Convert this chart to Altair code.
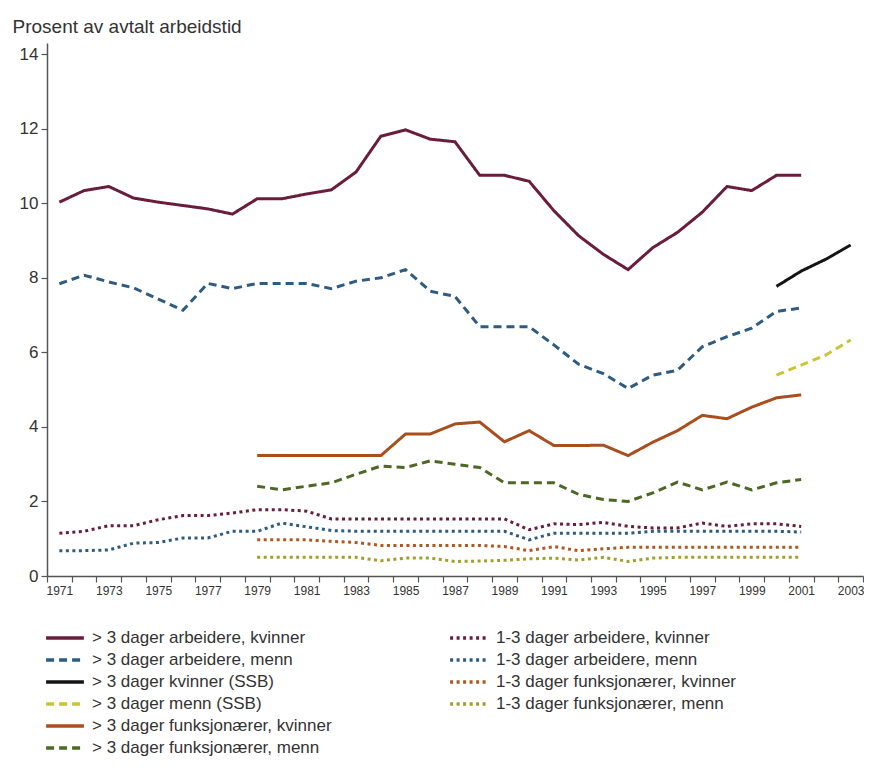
import altair as alt
import pandas as pd

# ---------------- data ----------------
names_a = [
    "> 3 dager arbeidere, kvinner",
    "> 3 dager arbeidere, menn",
    "> 3 dager kvinner (SSB)",
    "> 3 dager menn (SSB)",
    "> 3 dager funksjonærer, kvinner",
    "> 3 dager funksjonærer, menn",
]
names_b = [
    "1-3 dager arbeidere, kvinner",
    "1-3 dager arbeidere, menn",
    "1-3 dager funksjonærer, kvinner",
    "1-3 dager funksjonærer, menn",
]

years_7101 = list(range(1971, 2002))
years_7901 = list(range(1979, 2002))
years_0003 = list(range(2000, 2004))

a_arb_kv = [10.03, 10.34, 10.45, 10.14, 10.03, 9.94, 9.85, 9.71, 10.12, 10.12, 10.25,
            10.36, 10.84, 11.8, 11.97, 11.72, 11.65, 10.75, 10.75, 10.59, 9.8, 9.13,
            8.63, 8.22, 8.81, 9.22, 9.76, 10.45, 10.34, 10.75, 10.75]
a_arb_me = [7.84, 8.07, 7.89, 7.73, 7.43, 7.13, 7.85, 7.71, 7.85, 7.85, 7.85, 7.71,
            7.91, 8.0, 8.22, 7.64, 7.5, 6.69, 6.69, 6.69, 6.2, 5.68, 5.43, 5.03, 5.39,
            5.52, 6.15, 6.42, 6.65, 7.1, 7.19]
a_ssb_kv = [7.77, 8.18, 8.5, 8.88]
a_ssb_me = [5.39, 5.66, 5.93, 6.33]
a_fun_kv = [3.23, 3.23, 3.23, 3.23, 3.23, 3.23, 3.81, 3.81, 4.08, 4.13, 3.6, 3.9, 3.5,
            3.5, 3.51, 3.23, 3.59, 3.9, 4.31, 4.22, 4.53, 4.78, 4.86]
a_fun_me = [2.41, 2.31, 2.41, 2.5, 2.73, 2.95, 2.91, 3.09, 3.0, 2.91, 2.5, 2.5, 2.5,
            2.19, 2.05, 2.0, 2.23, 2.52, 2.31, 2.52, 2.31, 2.5, 2.59]

b_arb_kv = [1.15, 1.2, 1.35, 1.35, 1.51, 1.62, 1.62, 1.69, 1.78, 1.78, 1.74, 1.53,
            1.53, 1.53, 1.53, 1.53, 1.53, 1.53, 1.53, 1.24, 1.4, 1.38, 1.44, 1.33,
            1.29, 1.29, 1.42, 1.33, 1.4, 1.4, 1.33]
b_arb_me = [0.68, 0.68, 0.7, 0.88, 0.9, 1.02, 1.02, 1.2, 1.2, 1.42, 1.32, 1.22, 1.2,
            1.2, 1.2, 1.2, 1.2, 1.2, 1.2, 0.97, 1.15, 1.15, 1.15, 1.15, 1.2, 1.2, 1.2,
            1.2, 1.2, 1.2, 1.18]
b_fun_kv = [0.97, 0.97, 0.97, 0.93, 0.9, 0.82, 0.82, 0.82, 0.82, 0.82, 0.79, 0.68,
            0.79, 0.68, 0.73, 0.77, 0.77, 0.77, 0.77, 0.77, 0.77, 0.77, 0.77]
b_fun_me = [0.5, 0.5, 0.5, 0.5, 0.5, 0.41, 0.48, 0.48, 0.39, 0.4, 0.42, 0.46, 0.48,
            0.43, 0.5, 0.39, 0.48, 0.5, 0.5, 0.5, 0.5, 0.5, 0.5]

y_ticks = [0, 2, 4, 6, 8, 10, 12, 14]
y_title = "Prosent av avtalt arbeidstid"

# ---------------- build tables ----------------
def table(pairs):
    rows = []
    for name, yrs, vals in pairs:
        for yr, v in zip(yrs, vals):
            rows.append({"serie": name, "aar": yr, "verdi": v})
    return pd.DataFrame(rows)

df_a = table([
    (names_a[0], years_7101, a_arb_kv),
    (names_a[1], years_7101, a_arb_me),
    (names_a[2], years_0003, a_ssb_kv),
    (names_a[3], years_0003, a_ssb_me),
    (names_a[4], years_7901, a_fun_kv),
    (names_a[5], years_7901, a_fun_me),
])
df_b = table([
    (names_b[0], years_7101, b_arb_kv),
    (names_b[1], years_7101, b_arb_me),
    (names_b[2], years_7901, b_fun_kv),
    (names_b[3], years_7901, b_fun_me),
])

colors_a = ["#6a1c3b", "#2d5b82", "#141414", "#c9c536", "#a84f1d", "#4b6924"]
dash_a = [[1, 0], [8, 5], [1, 0], [8, 5], [1, 0], [8, 5]]
colors_b = ["#6a1c3b", "#2d5b82", "#b0581f", "#9f9f2a"]
dash_b = [[3, 3.5]] * 4

FONT = "Liberation Sans"
TXT = "#333333"

x_vals = [1970.5 + 0.5 * k for k in range(67)]

x_enc = alt.X(
    "aar:Q",
    scale=alt.Scale(domain=[1970.5, 2003.5], nice=False, zero=False),
    axis=alt.Axis(
        title=None, values=x_vals, grid=False,
        labelExpr="datum.value % 2 == 1 ? datum.value : ''",
        tickOpacity={"expr": "datum.value % 1 == 0 ? 0 : 1"},
        tickSize=6, tickColor="#555555", tickWidth=1.2,
        domainColor="#555555", domainWidth=1.5,
        labelFont=FONT, labelFontSize=12, labelColor=TXT, labelPadding=3,
        labelOverlap=False, labelFlush=False,
    ),
)
y_enc = alt.Y(
    "verdi:Q",
    scale=alt.Scale(domain=[0, 14.3], nice=False),
    axis=alt.Axis(
        title=y_title, titleAngle=0, titleAlign="left", titleBaseline="alphabetic",
        titleX=-35, titleY=-11, titleFont=FONT, titleFontSize=19,
        titleFontWeight="normal", titleColor=TXT,
        values=y_ticks, grid=False,
        tickSize=6, tickColor="#555555", tickWidth=1.2,
        domainColor="#555555", domainWidth=1.5,
        labelFont=FONT, labelFontSize=17, labelColor=TXT, labelPadding=3,
    ),
)

def legend(x, y):
    return alt.Legend(
        title=None, orient="none", legendX=x, legendY=y,
        symbolType="M-2.1,0H2.1", symbolSize=324, symbolStrokeWidth=3.5,
        labelFont=FONT, labelFontSize=17, labelColor=TXT, labelOffset=16,
        rowPadding=3, padding=0, offset=0, labelLimit=400,
    )

leg_a = legend(7, 584)
leg_b = legend(411, 584)

layer_a = alt.Chart(df_a).mark_line(strokeWidth=3, strokeCap="butt").encode(
    x=x_enc, y=y_enc,
    color=alt.Color("serie:N", scale=alt.Scale(domain=names_a, range=colors_a), legend=leg_a),
    strokeDash=alt.StrokeDash("serie:N", scale=alt.Scale(domain=names_a, range=dash_a), legend=leg_a),
    detail="serie:N",
)
layer_b = alt.Chart(df_b).mark_line(strokeWidth=3, strokeCap="butt").encode(
    x=x_enc, y=y_enc,
    color=alt.Color("serie:N", scale=alt.Scale(domain=names_b, range=colors_b), legend=leg_b),
    strokeDash=alt.StrokeDash("serie:N", scale=alt.Scale(domain=names_b, range=dash_b), legend=leg_b),
    detail="serie:N",
)

chart = (
    alt.layer(layer_a, layer_b)
    .resolve_scale(color="independent", strokeDash="independent")
    .properties(
        width=816, height=533,
        autosize=alt.AutoSizeParams(type="none"),
        padding={"left": 39, "top": 35, "right": 1, "bottom": 190},
    )
    .configure(background="white")
    .configure_view(stroke=None)
)

chart.save("out.html", embed_options={"renderer": "svg", "actions": False})
